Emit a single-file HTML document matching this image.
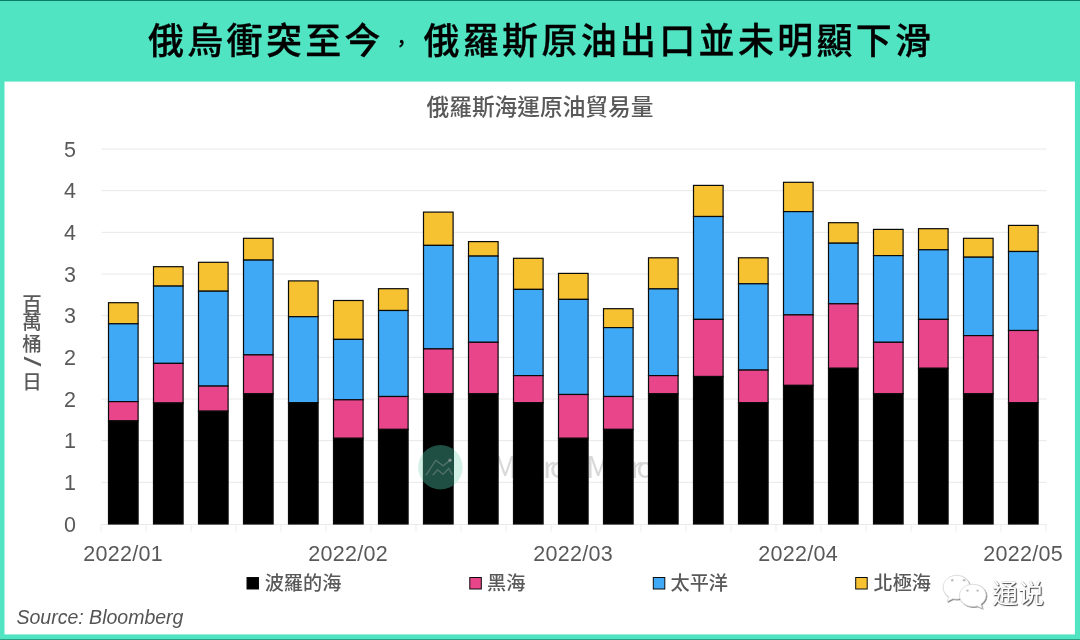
<!DOCTYPE html>
<html lang="zh-Hant">
<head>
<meta charset="utf-8">
<title>俄烏衝突至今，俄羅斯原油出口並未明顯下滑</title>
<style>
html,body{margin:0;padding:0;background:#50E4C3;}
body{width:1080px;height:640px;overflow:hidden;position:relative;font-family:"Liberation Sans","Noto Sans CJK TC",sans-serif;}
svg{position:absolute;left:0;top:0;display:block;}
.cjk{font-family:"Liberation Sans","Noto Sans CJK TC",sans-serif;}
.title{font-weight:500;font-size:36px;fill:#000;letter-spacing:3.3px;stroke:#000;stroke-width:0.3px;}
.sub{font-weight:500;font-size:22.7px;fill:#595959;}
.ax{font-size:21.5px;fill:#595959;}
.leg{font-size:19.2px;fill:#595959;font-weight:500;}
.ytitle{font-size:19.5px;fill:#595959;font-weight:500;}
.src{font-size:19.5px;font-style:italic;fill:#545454;}
</style>
</head>
<body>
<svg width="1080" height="640" viewBox="0 0 1080 640">
<rect x="0" y="0" width="1080" height="640" fill="#50E4C3"/>
<rect x="0" y="0" width="1080" height="1" fill="#0B7D68"/>
<rect x="0" y="639" width="1080" height="1" fill="#2A9D85"/>
<rect x="4.5" y="81.6" width="1070.4" height="552.8" fill="#ffffff"/>
<text class="cjk title" x="148" y="53.6">俄烏衝突至今</text>
<text class="cjk title" x="401.5" y="51" text-anchor="middle" style="font-size:19px;letter-spacing:0">，</text>
<text class="cjk title" x="423.5" y="53.6">俄羅斯原油出口並未明顯下滑</text>
<text class="cjk sub" x="540" y="115" text-anchor="middle">俄羅斯海運原油貿易量</text>

<g stroke="#E8E8E8" stroke-width="1">
<line x1="101.5" x2="1046.5" y1="482.33" y2="482.33"/>
<line x1="101.5" x2="1046.5" y1="440.67" y2="440.67"/>
<line x1="101.5" x2="1046.5" y1="399.00" y2="399.00"/>
<line x1="101.5" x2="1046.5" y1="357.33" y2="357.33"/>
<line x1="101.5" x2="1046.5" y1="315.67" y2="315.67"/>
<line x1="101.5" x2="1046.5" y1="274.00" y2="274.00"/>
<line x1="101.5" x2="1046.5" y1="232.33" y2="232.33"/>
<line x1="101.5" x2="1046.5" y1="190.67" y2="190.67"/>
<line x1="101.5" x2="1046.5" y1="149.00" y2="149.00"/>
</g>
<g stroke="#EBEBEB" stroke-width="1"><line x1="101.5" x2="1046.5" y1="524.5" y2="524.5"/>
<line x1="101.0" x2="101.0" y1="524.5" y2="531.5"/>
<line x1="146.0" x2="146.0" y1="524.5" y2="531.5"/>
<line x1="191.0" x2="191.0" y1="524.5" y2="531.5"/>
<line x1="236.0" x2="236.0" y1="524.5" y2="531.5"/>
<line x1="281.0" x2="281.0" y1="524.5" y2="531.5"/>
<line x1="326.0" x2="326.0" y1="524.5" y2="531.5"/>
<line x1="371.0" x2="371.0" y1="524.5" y2="531.5"/>
<line x1="416.0" x2="416.0" y1="524.5" y2="531.5"/>
<line x1="461.0" x2="461.0" y1="524.5" y2="531.5"/>
<line x1="506.0" x2="506.0" y1="524.5" y2="531.5"/>
<line x1="551.0" x2="551.0" y1="524.5" y2="531.5"/>
<line x1="596.0" x2="596.0" y1="524.5" y2="531.5"/>
<line x1="641.0" x2="641.0" y1="524.5" y2="531.5"/>
<line x1="686.0" x2="686.0" y1="524.5" y2="531.5"/>
<line x1="731.0" x2="731.0" y1="524.5" y2="531.5"/>
<line x1="776.0" x2="776.0" y1="524.5" y2="531.5"/>
<line x1="821.0" x2="821.0" y1="524.5" y2="531.5"/>
<line x1="866.0" x2="866.0" y1="524.5" y2="531.5"/>
<line x1="911.0" x2="911.0" y1="524.5" y2="531.5"/>
<line x1="956.0" x2="956.0" y1="524.5" y2="531.5"/>
<line x1="1001.0" x2="1001.0" y1="524.5" y2="531.5"/>
<line x1="1046.0" x2="1046.0" y1="524.5" y2="531.5"/>
</g>
<g class="ax" text-anchor="end">
<text x="76" y="531.60">0</text>
<text x="76" y="489.93">1</text>
<text x="76" y="448.27">1</text>
<text x="76" y="406.60">2</text>
<text x="76" y="364.93">2</text>
<text x="76" y="323.27">3</text>
<text x="76" y="281.60">3</text>
<text x="76" y="239.93">4</text>
<text x="76" y="198.27">4</text>
<text x="76" y="156.60">5</text>
</g>
<circle cx="440.4" cy="467.3" r="22.2" fill="#D3F0E7"/>
<text x="493 515.5 529 543 549.8 586 611 618 630.5 636.3" y="478" font-size="30" fill="#D8D8D8" style="font-family:'Noto Sans CJK TC','Liberation Sans',sans-serif;font-weight:400;">MacroMicro</text>
<g stroke="#0a0a0a" stroke-width="1.2">
<rect x="108.5" y="302.7" width="29.6" height="21.1" fill="#F7C232"/>
<rect x="108.5" y="323.8" width="29.6" height="77.8" fill="#40A9F6"/>
<rect x="108.5" y="401.6" width="29.6" height="19.3" fill="#E8458B"/>
<rect x="108.5" y="420.9" width="29.6" height="103.1" fill="#000000"/>
<rect x="153.5" y="266.7" width="29.6" height="19.4" fill="#F7C232"/>
<rect x="153.5" y="286.1" width="29.6" height="77.3" fill="#40A9F6"/>
<rect x="153.5" y="363.4" width="29.6" height="39.6" fill="#E8458B"/>
<rect x="153.5" y="403.0" width="29.6" height="121.0" fill="#000000"/>
<rect x="198.5" y="262.3" width="29.6" height="28.9" fill="#F7C232"/>
<rect x="198.5" y="291.2" width="29.6" height="94.9" fill="#40A9F6"/>
<rect x="198.5" y="386.1" width="29.6" height="25.1" fill="#E8458B"/>
<rect x="198.5" y="411.2" width="29.6" height="112.8" fill="#000000"/>
<rect x="243.5" y="238.3" width="29.6" height="21.8" fill="#F7C232"/>
<rect x="243.5" y="260.1" width="29.6" height="94.8" fill="#40A9F6"/>
<rect x="243.5" y="354.9" width="29.6" height="38.9" fill="#E8458B"/>
<rect x="243.5" y="393.8" width="29.6" height="130.2" fill="#000000"/>
<rect x="288.5" y="280.9" width="29.6" height="35.8" fill="#F7C232"/>
<rect x="288.5" y="316.7" width="29.6" height="86.0" fill="#40A9F6"/>
<rect x="288.5" y="402.7" width="29.6" height="121.3" fill="#000000"/>
<rect x="333.5" y="300.5" width="29.6" height="38.9" fill="#F7C232"/>
<rect x="333.5" y="339.4" width="29.6" height="60.4" fill="#40A9F6"/>
<rect x="333.5" y="399.8" width="29.6" height="38.5" fill="#E8458B"/>
<rect x="333.5" y="438.3" width="29.6" height="85.7" fill="#000000"/>
<rect x="378.5" y="288.7" width="29.6" height="21.8" fill="#F7C232"/>
<rect x="378.5" y="310.5" width="29.6" height="86.0" fill="#40A9F6"/>
<rect x="378.5" y="396.5" width="29.6" height="32.9" fill="#E8458B"/>
<rect x="378.5" y="429.4" width="29.6" height="94.6" fill="#000000"/>
<rect x="423.5" y="212.1" width="29.6" height="33.3" fill="#F7C232"/>
<rect x="423.5" y="245.4" width="29.6" height="103.5" fill="#40A9F6"/>
<rect x="423.5" y="348.9" width="29.6" height="44.9" fill="#E8458B"/>
<rect x="423.5" y="393.8" width="29.6" height="130.2" fill="#000000"/>
<rect x="468.5" y="241.6" width="29.6" height="14.5" fill="#F7C232"/>
<rect x="468.5" y="256.1" width="29.6" height="86.2" fill="#40A9F6"/>
<rect x="468.5" y="342.3" width="29.6" height="51.5" fill="#E8458B"/>
<rect x="468.5" y="393.8" width="29.6" height="130.2" fill="#000000"/>
<rect x="513.5" y="258.3" width="29.6" height="31.1" fill="#F7C232"/>
<rect x="513.5" y="289.4" width="29.6" height="86.2" fill="#40A9F6"/>
<rect x="513.5" y="375.6" width="29.6" height="27.1" fill="#E8458B"/>
<rect x="513.5" y="402.7" width="29.6" height="121.3" fill="#000000"/>
<rect x="558.5" y="273.4" width="29.6" height="26.0" fill="#F7C232"/>
<rect x="558.5" y="299.4" width="29.6" height="95.1" fill="#40A9F6"/>
<rect x="558.5" y="394.5" width="29.6" height="43.8" fill="#E8458B"/>
<rect x="558.5" y="438.3" width="29.6" height="85.7" fill="#000000"/>
<rect x="603.5" y="308.7" width="29.6" height="18.9" fill="#F7C232"/>
<rect x="603.5" y="327.6" width="29.6" height="68.9" fill="#40A9F6"/>
<rect x="603.5" y="396.5" width="29.6" height="32.9" fill="#E8458B"/>
<rect x="603.5" y="429.4" width="29.6" height="94.6" fill="#000000"/>
<rect x="648.5" y="257.8" width="29.6" height="31.1" fill="#F7C232"/>
<rect x="648.5" y="288.9" width="29.6" height="86.7" fill="#40A9F6"/>
<rect x="648.5" y="375.6" width="29.6" height="18.2" fill="#E8458B"/>
<rect x="648.5" y="393.8" width="29.6" height="130.2" fill="#000000"/>
<rect x="693.5" y="185.4" width="29.6" height="31.1" fill="#F7C232"/>
<rect x="693.5" y="216.5" width="29.6" height="102.9" fill="#40A9F6"/>
<rect x="693.5" y="319.4" width="29.6" height="57.1" fill="#E8458B"/>
<rect x="693.5" y="376.5" width="29.6" height="147.5" fill="#000000"/>
<rect x="738.5" y="257.8" width="29.6" height="26.0" fill="#F7C232"/>
<rect x="738.5" y="283.8" width="29.6" height="86.3" fill="#40A9F6"/>
<rect x="738.5" y="370.1" width="29.6" height="32.6" fill="#E8458B"/>
<rect x="738.5" y="402.7" width="29.6" height="121.3" fill="#000000"/>
<rect x="783.5" y="182.3" width="29.6" height="29.3" fill="#F7C232"/>
<rect x="783.5" y="211.6" width="29.6" height="103.3" fill="#40A9F6"/>
<rect x="783.5" y="314.9" width="29.6" height="70.5" fill="#E8458B"/>
<rect x="783.5" y="385.4" width="29.6" height="138.6" fill="#000000"/>
<rect x="828.5" y="222.7" width="29.6" height="20.5" fill="#F7C232"/>
<rect x="828.5" y="243.2" width="29.6" height="60.6" fill="#40A9F6"/>
<rect x="828.5" y="303.8" width="29.6" height="64.5" fill="#E8458B"/>
<rect x="828.5" y="368.3" width="29.6" height="155.7" fill="#000000"/>
<rect x="873.5" y="229.4" width="29.6" height="26.2" fill="#F7C232"/>
<rect x="873.5" y="255.6" width="29.6" height="86.7" fill="#40A9F6"/>
<rect x="873.5" y="342.3" width="29.6" height="51.5" fill="#E8458B"/>
<rect x="873.5" y="393.8" width="29.6" height="130.2" fill="#000000"/>
<rect x="918.5" y="228.7" width="29.6" height="21.1" fill="#F7C232"/>
<rect x="918.5" y="249.8" width="29.6" height="69.6" fill="#40A9F6"/>
<rect x="918.5" y="319.4" width="29.6" height="48.9" fill="#E8458B"/>
<rect x="918.5" y="368.3" width="29.6" height="155.7" fill="#000000"/>
<rect x="963.5" y="238.3" width="29.6" height="18.9" fill="#F7C232"/>
<rect x="963.5" y="257.2" width="29.6" height="78.4" fill="#40A9F6"/>
<rect x="963.5" y="335.6" width="29.6" height="58.2" fill="#E8458B"/>
<rect x="963.5" y="393.8" width="29.6" height="130.2" fill="#000000"/>
<rect x="1008.5" y="225.4" width="29.6" height="26.1" fill="#F7C232"/>
<rect x="1008.5" y="251.5" width="29.6" height="79.0" fill="#40A9F6"/>
<rect x="1008.5" y="330.5" width="29.6" height="72.2" fill="#E8458B"/>
<rect x="1008.5" y="402.7" width="29.6" height="121.3" fill="#000000"/>
</g>
<clipPath id="wm"><circle cx="440.4" cy="467.3" r="22.2"/></clipPath>
<g clip-path="url(#wm)"><rect x="423" y="437" width="31" height="87" fill="#1E4F42"/><polyline points="425.9,475.3 435.8,460.2 443.1,465.8 449.6,460.6" fill="none" stroke="#4F7068" stroke-width="1.4"/><polyline points="432.8,475.3 437.5,469.7 443.1,474.4 448.7,468.4 452.5,475" fill="none" stroke="#4F7068" stroke-width="1.4"/><circle cx="450" cy="460.2" r="1.6" fill="#7F8F8A"/></g>
<g class="ax" text-anchor="middle" style="letter-spacing:0.3px">
<text x="123.2" y="561">2022/01</text>
<text x="348.2" y="561">2022/02</text>
<text x="573.2" y="561">2022/03</text>
<text x="798.2" y="561">2022/04</text>
<text x="1023.2" y="561">2022/05</text>
</g>
<rect x="247.0" y="577.5" width="11.5" height="11.5" fill="#000000" stroke="#0a0a0a" stroke-width="1"/>
<text class="cjk leg" x="264.7" y="590">波羅的海</text>
<rect x="469.8" y="577.5" width="11.5" height="11.5" fill="#E8458B" stroke="#0a0a0a" stroke-width="1"/>
<text class="cjk leg" x="487.0" y="590">黑海</text>
<rect x="653.3" y="577.5" width="11.5" height="11.5" fill="#40A9F6" stroke="#0a0a0a" stroke-width="1"/>
<text class="cjk leg" x="670.5" y="590">太平洋</text>
<rect x="855.7" y="577.5" width="11.5" height="11.5" fill="#F7C232" stroke="#0a0a0a" stroke-width="1"/>
<text class="cjk leg" x="873.5" y="590">北極海</text>
<g class="cjk ytitle" text-anchor="middle">
<text x="32" y="311.2">百</text>
<text x="32" y="329.1">萬</text>
<text x="32" y="351.2">桶</text>
<text x="32" y="388.6">日</text>
<text transform="translate(32,361.4) rotate(90) scale(1.55,1)" x="0" y="8.3" font-size="23">/</text>
</g>
<text class="src" x="16.5" y="624">Source: Bloomberg</text>
<defs><filter id="ws" x="-20%" y="-20%" width="140%" height="140%"><feDropShadow dx="0.8" dy="0.8" stdDeviation="0.55" flood-color="#444" flood-opacity="0.85"/></filter></defs>
<g fill="#ffffff" stroke="#D0D0D0" stroke-width="0.6">
<path filter="url(#ws)" d="M957,575.2a13.8,12 0 0 0 -8.2,21.7l-1.6,4.6l5.4,-2.7a13.8,12 0 1 0 4.4,-23.6z"/>
<path filter="url(#ws)" d="M972.8,584.3a13.2,11.1 0 1 0 4.2,21.6l5.2,2.4l-1.3,-4.1a13.2,11.1 0 0 0 -8.1,-19.9z"/>
</g>
<g fill="#BDBDBD"><circle cx="952.3" cy="580.3" r="1.3"/><circle cx="964.2" cy="580.3" r="1.3"/><circle cx="967.5" cy="590.6" r="1.2"/><circle cx="977.6" cy="590.6" r="1.2"/></g>
<text class="cjk" x="992" y="602.5" font-size="26" fill="#ffffff" style="text-shadow:1px 1px 1px #444,0 0 1px #aaa;font-family:'Liberation Sans','Noto Sans CJK SC',sans-serif;">通说</text>

</svg>
</body>
</html>
